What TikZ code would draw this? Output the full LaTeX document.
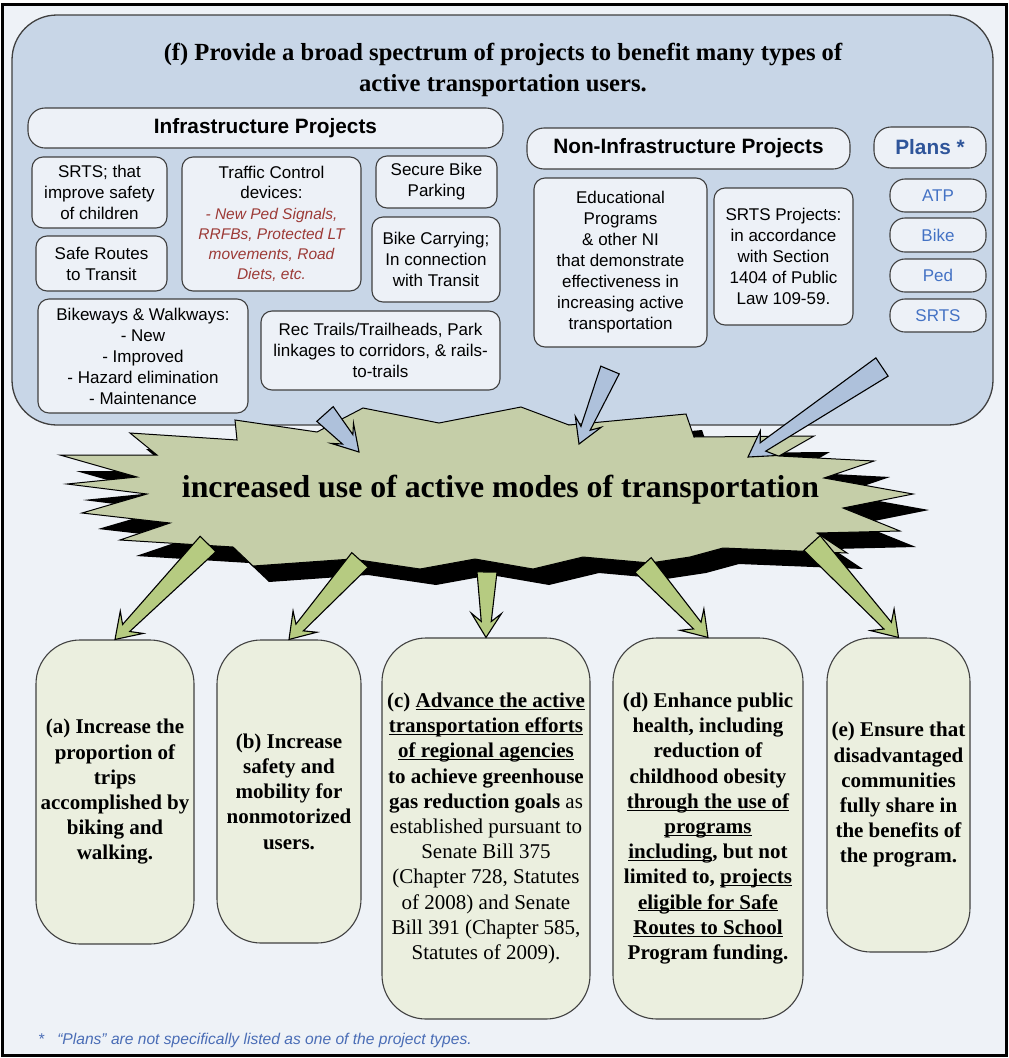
\documentclass[tikz,border=0pt]{standalone}
\usepackage{fontspec}
\setmainfont{Liberation Sans}
\newfontfamily\tnr{Liberation Serif}
\usetikzlibrary{calc}
\definecolor{bg}{HTML}{EEF2F7}
\definecolor{bluefill}{HTML}{C8D6E7}
\definecolor{boxfill}{HTML}{EDF1F7}
\definecolor{bord}{HTML}{404040}
\definecolor{burstfill}{HTML}{C5CEA8}
\definecolor{garrow}{HTML}{B6CB81}
\definecolor{goalfill}{HTML}{EBEFDF}
\definecolor{barrow}{HTML}{AEC1DB}
\definecolor{redtxt}{HTML}{9C3A36}
\definecolor{plansblue}{HTML}{2F559A}
\definecolor{plantxt}{HTML}{4472C4}
\definecolor{fncol}{HTML}{4A6DB6}
\newcommand\uu[1]{\leavevmode\setbox0\hbox{#1}\rlap{\rule[-2.4pt]{\wd0}{1.1pt}}\box0}
\newcommand\redit{\color{redtxt}\itshape\fontsize{15.5}{20}\selectfont}
\newcommand\blockarrow[8]{%
  \coordinate (ban) at ($(#3)!#8!(#2)$);
  \coordinate (baw) at ($(#3)!#7!(#2)$);
  \path[#1] ($(#2)!#4!90:(#3)$) -- ($(ban)!#5!90:(#3)$) -- ($(baw)!#6!90:(#3)$) -- (#3)
    -- ($(baw)!#6!-90:(#3)$) -- ($(ban)!#5!-90:(#3)$) -- ($(#2)!#4!-90:(#3)$) -- cycle;
}
\begin{document}
\begin{tikzpicture}[x=1pt,y=-1pt,
  sbox/.style={draw=bord, line width=1.1pt, fill=boxfill, rounded corners=11pt, inner sep=0pt, align=center, font=\fontsize{17}{21}\selectfont},
  hdbox/.style={draw=bord, line width=1.1pt, fill=boxfill, rounded corners=17pt, inner sep=0pt, align=center, font=\bfseries\fontsize{20.8}{24}\selectfont},
  pbox/.style={draw=bord, line width=1.1pt, fill=boxfill, rounded corners=15pt, inner sep=0pt, text=plantxt, font=\fontsize{17}{21}\selectfont},
  gbox/.style={draw=bord, line width=1.1pt, fill=goalfill, rounded corners=44pt, inner sep=0pt, align=center, font=\tnr\bfseries\fontsize{21}{25.2}\selectfont},
  barrowst/.style={draw=black, line width=1.1pt, fill=barrow, line join=miter},
  garrowst/.style={draw=black, line width=1.1pt, fill=garrow, line join=miter},
]
\useasboundingbox (0,0) rectangle (1009,1058);
\fill[white] (0,0) rectangle (1009,1058);
\fill[bg] (2.5,4.5) rectangle (1006.5,1055.5);

% big blue box
\node[draw=bord, line width=1.3pt, fill=bluefill, rounded corners=45pt, minimum width=981pt, minimum height=410pt, inner sep=0pt] (fbox) at (502.5,220) {};
\node[font=\tnr\bfseries\fontsize{24.6}{31}\selectfont, align=center] (title) at (503,69.5)
  {(f) Provide a broad spectrum of projects to benefit many types of\\active transportation users.};

% infrastructure
\node[hdbox, minimum width=475pt, minimum height=40pt] (infra) at (265.5,128) {Infrastructure Projects};
\node[sbox, minimum width=135pt, minimum height=71pt] (srts) at (99.5,192.5) {SRTS; that\\improve safety\\of children};
\node[sbox, minimum width=131pt, minimum height=55pt] (srt) at (101.5,263.5) {Safe Routes\\to Transit};
\node[sbox, minimum width=179pt, minimum height=134pt, font=\fontsize{17}{20.3}\selectfont] (tcd) at (271.5,224)
  {Traffic Control\\devices:\\{\redit - New Ped Signals,}\\{\redit RRFBs, Protected LT}\\{\redit movements, Road}\\{\redit Diets, etc.}};
\node[sbox, minimum width=121pt, minimum height=52pt] (sbp) at (436.5,182) {Secure Bike\\Parking};
\node[sbox, minimum width=128pt, minimum height=85pt] (bcar) at (436,259.5) {Bike Carrying;\\In connection\\with Transit};
\node[sbox, minimum width=210pt, minimum height=114pt] (bw) at (143,356) {Bikeways \& Walkways:\\- New\\- Improved\\- Hazard elimination\\- Maintenance};
\node[sbox, minimum width=239pt, minimum height=79pt] (rec) at (380.5,350.5) {Rec Trails/Trailheads, Park\\linkages to corridors, \& rails-\\to-trails};

% non-infrastructure
\node[hdbox, minimum width=323pt, minimum height=41pt] (ninfra) at (688.5,148.5) {Non-Infrastructure Projects};
\node[sbox, minimum width=173pt, minimum height=169pt] (edu) at (620.5,262.5) {Educational\\Programs\\\& other NI\\that demonstrate\\effectiveness in\\increasing active\\transportation};
\node[sbox, minimum width=139pt, minimum height=137pt] (srtsp) at (783.5,256.5) {SRTS Projects:\\in accordance\\with Section\\1404 of Public\\Law 109-59.};

% plans
\node[hdbox, minimum width=112pt, minimum height=41pt, text=plansblue] (plans) at (930,147.5) {Plans *};
\node[pbox, minimum width=96pt, minimum height=33pt] (atp) at (938,195.5) {ATP};
\node[pbox, minimum width=96pt, minimum height=34pt] (pbike) at (938,235) {Bike};
\node[pbox, minimum width=96pt, minimum height=33pt] (pped) at (938,275.5) {Ped};
\node[pbox, minimum width=96pt, minimum height=33pt] (psrts) at (938,315.5) {SRTS};

% starburst
\def\burstpath{(130,433) -- (237,440) -- (235,420) -- (317,432) -- (363,408) -- (439,423) -- (521,407) -- (569,425)
  -- (686,414) -- (694,437) -- (814,436) -- (779,456) -- (874,461) -- (824,478) -- (913,494) -- (843,508)
  -- (900,531) -- (817,533) -- (847,553) -- (723,548) -- (690,557) -- (650,563) -- (583,557) -- (533,569)
  -- (475,559) -- (420,569) -- (352,559) -- (253,566) -- (233,547) -- (120,540) -- (170,523) -- (82,513)
  -- (147,494) -- (67,484) -- (137,477) -- (60,455) -- (157,455) -- cycle}
\fill[black, shift={(16,16)}] \burstpath;
\draw[black, line width=1pt, fill=burstfill, line join=miter] \burstpath;
\node[font=\tnr\bfseries\fontsize{31.8}{37}\selectfont] (burst) at (500.5,490) {increased use of active modes of transportation};

% blue input arrows
\coordinate (bt1) at (325,414); \coordinate (bh1) at (359,452);
\coordinate (bt2) at (610,370); \coordinate (bh2) at (579,444);
\coordinate (bt3) at (882,367); \coordinate (bh3) at (748,457);
\blockarrow{barrowst}{bt1}{bh1}{11pt}{7pt}{15pt}{25pt}{17pt}
\blockarrow{barrowst}{bt2}{bh2}{10pt}{5pt}{14pt}{24pt}{17pt}
\blockarrow{barrowst}{bt3}{bh3}{11pt}{5pt}{15pt}{25pt}{18pt}

% goal boxes
\node[gbox, minimum width=158pt, minimum height=304pt] (ga) at (115,792) {(a) Increase the\\proportion of\\trips\\accomplished by\\biking and\\walking.};
\node[gbox, minimum width=144pt, minimum height=303pt] (gb) at (289,791.5) {(b) Increase\\safety and\\mobility for\\nonmotorized\\users.};
\node[gbox, minimum width=208pt, minimum height=381pt, font=\tnr\fontsize{21}{25.2}\selectfont] (gc) at (486,828.5)
  {\textbf{(c) \uu{Advance the active}}\\\textbf{\uu{transportation efforts}}\\\textbf{\uu{of regional agencies}}\\\textbf{to achieve greenhouse}\\\textbf{gas reduction goals} as\\established pursuant to\\Senate Bill 375\\(Chapter 728, Statutes\\of 2008) and Senate\\Bill 391 (Chapter 585,\\Statutes of 2009).};
\node[gbox, minimum width=190pt, minimum height=381pt] (gd) at (708,828.5)
  {(d) Enhance public\\health, including\\reduction of\\childhood obesity\\\uu{through the use of}\\\uu{programs}\\\uu{including}, but not\\limited to, \uu{projects}\\\uu{eligible for Safe}\\\uu{Routes to School}\\Program funding.};
\node[gbox, minimum width=143pt, minimum height=314pt] (ge) at (898.5,795) {(e) Ensure that\\disadvantaged\\communities\\fully share in\\the benefits of\\the program.};

% green output arrows
\coordinate (gt1) at (208,544);
\coordinate (gt2) at (360,560);
\coordinate (gt3) at (487,572);
\coordinate (gt4) at (643,565);
\coordinate (gt5) at (812,543);
\blockarrow{garrowst}{gt1}{ga.north}{11pt}{5pt}{16pt}{24pt}{16pt}
\blockarrow{garrowst}{gt2}{gb.north}{11pt}{5pt}{16pt}{24pt}{16pt}
\blockarrow{garrowst}{gt3}{gc.north}{10pt}{5pt}{15pt}{24pt}{16pt}
\blockarrow{garrowst}{gt4}{gd.north}{11pt}{5pt}{16pt}{24pt}{16pt}
\blockarrow{garrowst}{gt5}{ge.north}{11pt}{5pt}{16pt}{24pt}{16pt}

% footnote
\node[anchor=west, text=fncol, font=\itshape\fontsize{15.6}{18}\selectfont, inner sep=0pt] (fn) at (38,1040)
  {*\hspace{13pt}“Plans” are not specifically listed as one of the project types.};

% frame
\draw[black, line width=3pt] (2.5,4.5) rectangle (1006.5,1055.5);
\end{tikzpicture}
\end{document}
